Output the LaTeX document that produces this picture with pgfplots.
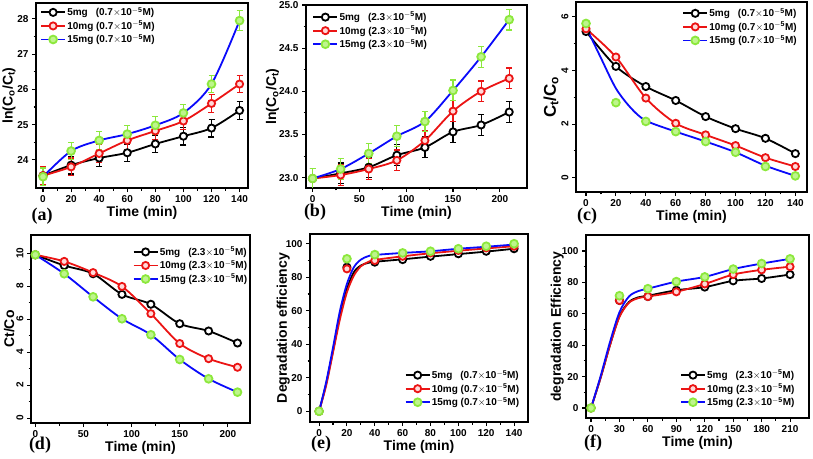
\documentclass[border=0pt]{standalone}
\usepackage{pgfplots}
\pgfplotsset{compat=1.18}
\usepackage{fontspec}
\setmainfont{Liberation Sans}
\newfontfamily\serifb{Liberation Serif}
\definecolor{lgreen}{RGB}{140,232,60}
\definecolor{lgreenf}{RGB}{190,245,140}
\definecolor{dred}{RGB}{235,20,20}
\definecolor{dblue}{RGB}{10,10,250}
\pgfplotsset{
  panel/.style={
    scale only axis,
    axis line style={line width=1.6pt},
    tick align=outside, tick pos=left,
    major tick length=4pt, minor tick length=2.5pt,
    every tick/.style={line width=1.1pt, black},
    minor x tick num=1, minor y tick num=1,
    tick label style={font=\bfseries\fontsize{10}{10}\selectfont},
    /pgf/number format/assume math mode=true,
    label style={font=\bfseries\fontsize{14}{14}\selectfont},
    xlabel={Time (min)},
    xlabel style={yshift=3pt},
    legend style={draw=none, fill=none, font=\bfseries\fontsize{10}{10}\selectfont,
      nodes={inner sep=1.3pt}, row sep=1pt},
    legend cell align=left,
    legend image code/.code={\draw[mark repeat=2,mark phase=2] plot coordinates {(0cm,0cm)(0.42cm,0cm)(0.84cm,0cm)};},
  },
  sb/.style={black, line width=1.8pt, mark=*, mark size=3.6pt, mark options={fill=white, draw=black, line width=1.8pt}},
  sr/.style={dred, line width=1.8pt, mark=*, mark size=3.6pt, mark options={fill=red!15, draw=dred, line width=1.8pt}},
  sg/.style={dblue, line width=1.8pt, mark=*, mark size=3.9pt, mark options={fill=lgreenf, draw=lgreen, line width=1.8pt}},
  eb/.style={error bars/.cd, y dir=both, y explicit, error bar style={line width=1.2pt, #1}, error mark options={rotate=90, mark size=3pt, line width=1.2pt, #1}},
}
\newcommand{\lgA}{\legend{5mg\hspace{8pt}(0.7$\times$10$^{\mathbf{-5}}$M), 10mg (0.7$\times$10$^{\mathbf{-5}}$M), 15mg (0.7$\times$10$^{\mathbf{-5}}$M)}}
\newcommand{\lgB}{\legend{5mg\hspace{8pt}(2.3$\times$10$^{\mathbf{-5}}$M), 10mg (2.3$\times$10$^{\mathbf{-5}}$M), 15mg (2.3$\times$10$^{\mathbf{-5}}$M)}}
\newcommand{\lgimg}{\addlegendimage{sb}\addlegendimage{sr}\addlegendimage{sg}}
\begin{document}
\begin{tikzpicture}
\useasboundingbox (0,0) rectangle (813pt,458pt);
% ---------- (a)
\begin{axis}[panel, at={(36pt,455pt)}, anchor=north west, width=212pt, height=185pt,
  xmin=-5, xmax=146, ymin=23.2, ymax=28.45, xtick={0,20,...,140}, ytick={24,25,26,27,28},
  ylabel={ln(C$_\mathbf{o}$/C$_\mathbf{t}$)}, ylabel shift=-5pt,
  legend style={at={(0.005,0.995)}, anchor=north west}]
\addplot+[sb, smooth, eb=black] table[y error=e] {
x y e
0 23.55 0.25
20 23.85 0.25
40 24.05 0.25
60 24.2 0.25
80 24.45 0.25
100 24.67 0.25
120 24.9 0.25
140 25.4 0.25
};
\addplot+[sr, smooth, eb=dred] table[y error=e] {
x y e
0 23.55 0.25
20 23.8 0.25
40 24.18 0.25
60 24.55 0.25
80 24.82 0.25
100 25.1 0.25
120 25.6 0.25
140 26.15 0.25
};
\addplot+[sg, smooth, eb=lgreen] table[y error=e] {
x y e
0 23.52 0.25
20 24.25 0.25
40 24.55 0.25
60 24.73 0.25
80 24.98 0.25
100 25.33 0.25
120 26.15 0.25
140 27.95 0.28
};
\lgA
\end{axis}
% ---------- (b)
\begin{axis}[panel, at={(306pt,453pt)}, anchor=north west, width=221pt, height=183pt,
  xmin=-7, xmax=229, ymin=22.88, ymax=25.0, xtick={0,50,...,200}, ytick={23,23.5,...,25},
  yticklabel style={/pgf/number format/.cd, fixed, fixed zerofill, precision=1},
  ylabel={ln(C$_\mathbf{o}$/C$_\mathbf{t}$)}, ylabel shift=-7pt,
  legend style={at={(0.015,0.98)}, anchor=north west}]
\addplot+[sb, smooth, eb=black] table[y error=e] {
x y e
0 22.99 0.12
30 23.05 0.12
60 23.12 0.12
90 23.26 0.12
120 23.35 0.12
150 23.53 0.12
180 23.61 0.12
210 23.76 0.12
};
\addplot+[sr, smooth, eb=dred] table[y error=e] {
x y e
0 22.99 0.12
30 23.03 0.12
60 23.1 0.12
90 23.2 0.12
120 23.43 0.12
150 23.77 0.12
180 24.0 0.12
210 24.15 0.12
};
\addplot+[sg, smooth, eb=lgreen] table[y error=e] {
x y e
0 22.99 0.12
30 23.1 0.12
60 23.28 0.12
90 23.48 0.12
120 23.65 0.12
150 24.01 0.12
180 24.4 0.12
210 24.83 0.12
};
\lgB
\end{axis}
% ---------- (c)
\begin{axis}[panel, at={(576pt,456pt)}, anchor=north west, width=231pt, height=190pt,
  xmin=-6.7, xmax=147.8, ymin=-0.53, ymax=6.55, xtick={0,20,...,140}, ytick={0,2,4,6},
  yticklabel style={rotate=90},
  ylabel={C$_\mathbf{t}$/C$_\mathbf{o}$}, ylabel style={font=\bfseries\fontsize{17}{17}\selectfont}, ylabel shift=-4pt,
  legend style={at={(0.975,0.985)}, anchor=north east}]
\lgimg
\addplot+[sb, smooth, forget plot] coordinates {(0,5.45)(20,4.15)(40,3.4)(60,2.88)(80,2.28)(100,1.83)(120,1.47)(140,0.9)};
\addplot+[sr, smooth, forget plot] coordinates {(0,5.55)(20,4.5)(40,2.97)(60,2.03)(80,1.6)(100,1.2)(120,0.75)(140,0.42)};
\addplot+[sg, forget plot, no marks, smooth] coordinates {(0,5.62)(10,4.46)(20,3.33)(30,2.6)(40,2.13)(60,1.72)(80,1.35)(100,0.95)(120,0.45)(140,0.07)};
\addplot+[sg, only marks, forget plot] coordinates {(0,5.75)(20,2.8)(40,2.1)(60,1.72)(80,1.35)(100,0.95)(120,0.42)(140,0.07)};
\lgA
\end{axis}
% ---------- (d)
\begin{axis}[panel, at={(31pt,223pt)}, anchor=north west, width=219pt, height=188pt,
  xmin=-4.5, xmax=223, ymin=-0.3, ymax=11.1, xtick={0,50,...,200}, ytick={0,2,...,10},
  yticklabel style={rotate=90},
  ylabel={Ct/Co}, ylabel shift=-5pt,
  legend style={at={(0.45,0.955)}, anchor=north west}]
\addplot+[sb, smooth] coordinates {(0,9.9)(30,9.25)(60,8.75)(90,7.5)(120,6.9)(150,5.72)(180,5.28)(210,4.55)};
\addplot+[sr, smooth] coordinates {(0,9.9)(30,9.5)(60,8.82)(90,7.98)(120,6.33)(150,4.52)(180,3.6)(210,3.08)};
\addplot+[sg, smooth] coordinates {(0,9.9)(30,8.75)(60,7.35)(90,6.02)(120,5.05)(150,3.55)(180,2.38)(210,1.57)};
\lgB
\end{axis}
% ---------- (e)
\begin{axis}[panel, at={(310pt,224pt)}, anchor=north west, width=218pt, height=188pt,
  xmin=-6.5, xmax=150, ymin=-6.4, ymax=105.8, xtick={0,20,...,140}, ytick={0,20,...,100},
  ylabel={Degradation efficiency}, ylabel shift=-11pt,
  legend style={at={(0.98,0.06)}, anchor=south east}]
\lgimg
\addplot+[sb, smooth, forget plot, no marks] coordinates {(0,0)(5,16)(10,36)(15,57)(20,73)(25,83)(30,87)(35,88.5)(40,89.2)(60,90.7)(80,92.3)(100,93.8)(120,95.3)(140,97)};
\addplot+[sr, smooth, forget plot, no marks] coordinates {(0,0)(5,15)(10,35)(15,55)(20,71)(25,81)(30,86.5)(35,89)(40,90.3)(60,92.5)(80,94.3)(100,95.8)(120,97.2)(140,98.5)};
\addplot+[sg, smooth, forget plot, no marks] coordinates {(0,0)(5,17)(10,38)(15,60)(20,76)(25,86)(30,90.5)(35,92.5)(40,93.3)(60,94.5)(80,95.5)(100,97)(120,98.2)(140,99.5)};
\addplot+[sb, only marks, forget plot] coordinates {(0,0)(20,86)(40,89)(60,90.5)(80,92.5)(100,94)(120,95.5)(140,97)};
\addplot+[sr, only marks, forget plot] coordinates {(0,0)(20,85)(40,90)(60,92.5)(80,94.5)(100,96)(120,97.5)(140,98.5)};
\addplot+[sg, only marks, forget plot] coordinates {(0,0)(20,91)(40,93.5)(60,94.5)(80,95.5)(100,97)(120,98.5)(140,100)};
\lgA
\end{axis}
% ---------- (f)
\begin{axis}[panel, at={(586pt,223pt)}, anchor=north west, width=223pt, height=183pt,
  xmin=-5.3, xmax=230, ymin=-6.4, ymax=110.2, xtick={0,30,...,210}, ytick={0,20,...,100},
  ylabel={degradation Efficiency}, ylabel shift=-9pt,
  legend style={at={(0.955,0.04)}, anchor=south east}]
\lgimg
\addplot+[sb, smooth, forget plot, no marks] coordinates {(0,0)(10,19)(20,40)(30,58.5)(40,67.5)(50,70.5)(60,71.5)(90,75)(120,77)(150,81)(180,82.5)(210,85)};
\addplot+[sr, smooth, forget plot, no marks] coordinates {(0,0)(10,19)(20,40)(30,58)(40,67)(50,70)(60,71)(90,74)(120,79)(150,85)(180,88)(210,90)};
\addplot+[sg, smooth, forget plot, no marks] coordinates {(0,0)(10,20)(20,42)(30,61)(40,71)(50,74.5)(60,76)(90,80.5)(120,83.5)(150,88.5)(180,92)(210,95)};
\addplot+[sb, only marks, forget plot] coordinates {(0,0)(30,68.5)(60,71)(90,75)(120,77)(150,81)(180,82.5)(210,85)};
\addplot+[sr, only marks, forget plot] coordinates {(0,0)(30,68.5)(60,71)(90,74)(120,79)(150,85)(180,88)(210,90)};
\addplot+[sg, only marks, forget plot] coordinates {(0,0)(30,71.5)(60,76)(90,80.5)(120,83.5)(150,88.5)(180,92)(210,95)};
\lgB
\end{axis}
% panel labels
\node[font=\serifb\bfseries\fontsize{18}{18}\selectfont] at (42pt,458pt-216pt) {(a)};
\node[font=\serifb\bfseries\fontsize{18}{18}\selectfont] at (315pt,458pt-212pt) {(b)};
\node[font=\serifb\bfseries\fontsize{18}{18}\selectfont] at (587pt,458pt-216pt) {(c)};
\node[font=\serifb\bfseries\fontsize{18}{18}\selectfont] at (40pt,458pt-445pt) {(d)};
\node[font=\serifb\bfseries\fontsize{18}{18}\selectfont] at (321pt,458pt-444pt) {(e)};
\node[font=\serifb\bfseries\fontsize{18}{18}\selectfont] at (593pt,458pt-443pt) {(f)};
\end{tikzpicture}
\end{document}
